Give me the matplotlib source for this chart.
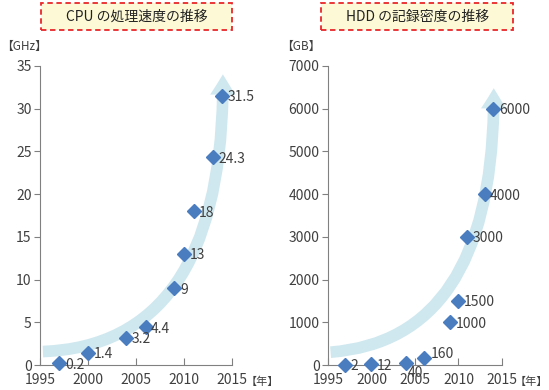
import numpy as np
import matplotlib
matplotlib.use("Agg")
import matplotlib.pyplot as plt
from matplotlib.patches import FancyArrowPatch, Rectangle
from matplotlib.path import Path

plt.rcParams["font.family"] = ["Noto Sans CJK JP", "DejaVu Sans"]

# CPU clock speed
cpu_years = [1997, 2000, 2004, 2006, 2009, 2010, 2011, 2013, 2014]
cpu_ghz = [0.2, 1.4, 3.2, 4.4, 9, 13, 18, 24.3, 31.5]
cpu_labels = ["0.2", "1.4", "3.2", "4.4", "9", "13", "18", "24.3", "31.5"]

# HDD recording density
hdd_years = [1997, 2000, 2004, 2006, 2009, 2010, 2011, 2013, 2014]
hdd_gb = [2, 12, 40, 160, 1000, 1500, 3000, 4000, 6000]
hdd_labels = ["2", "12", "40", "160", "1000", "1500", "3000", "4000", "6000"]

x_ticks = [1995, 2000, 2005, 2010, 2015]
cpu_yticks = [0, 5, 10, 15, 20, 25, 30, 35]
hdd_yticks = [0, 1000, 2000, 3000, 4000, 5000, 6000, 7000]

TEXT = "#404040"
SPINE = "#808080"
MARKER = "#4a7cc0"
ARROW = "#cfe8ef"


def draw_panel(fig, rect, years, values, labels, yticks, unit, unit_x, year_x,
               title, title_rect, offsets, bend=0.075):
    ax = fig.add_axes(rect)
    ax.set_xlim(x_ticks[0], x_ticks[-1])
    ax.set_ylim(yticks[0], yticks[-1])
    ax.set_xticks(x_ticks)
    ax.set_yticks(yticks)
    for s in ["top", "right"]:
        ax.spines[s].set_visible(False)
    for s in ["left", "bottom"]:
        ax.spines[s].set_color(SPINE)
    ax.tick_params(axis="x", direction="in", length=5, color=SPINE, labelcolor=TEXT,
                   labelsize=10, pad=6)
    ax.tick_params(axis="y", direction="out", length=4, color=SPINE, labelcolor=TEXT,
                   labelsize=10, pad=2)

    # trend arrow behind the points
    vmax = max(values)
    start = (x_ticks[0] + 0.3, vmax * 0.05)
    ctrl = (years[-1] + 0.3, vmax * bend)
    tip = (years[-1] + 0.05, vmax * 1.08)
    path = Path([start, ctrl, tip], [Path.MOVETO, Path.CURVE3, Path.CURVE3])
    arrow = FancyArrowPatch(path=path,
                            arrowstyle="simple,head_length=2.1,head_width=2.6,tail_width=1.2",
                            mutation_scale=7, fc=ARROW, ec="none", zorder=1,
                            clip_on=False)
    ax.add_patch(arrow)

    ax.plot(years, values, linestyle="none", marker="D", markersize=7,
            color=MARKER, zorder=3, clip_on=False)
    for i, (x, y, lab) in enumerate(zip(years, values, labels)):
        dx, dy = offsets.get(i, (4, -1))
        ax.annotate(lab, (x, y), xytext=(dx, dy), textcoords="offset points",
                    ha="left", va="center", fontsize=10, color=TEXT, zorder=4)

    # unit labels
    fig.text(unit_x, 0.88, unit, ha="left", va="center", fontsize=8.5, color=TEXT)
    fig.text(year_x, 0.022, "【年】", ha="left", va="center", fontsize=8, color=TEXT)

    # title box
    box = Rectangle((title_rect[0], title_rect[1]), title_rect[2], title_rect[3],
                    transform=fig.transFigure, fc="#fdf9d6", ec="#e8262a", lw=1.3,
                    linestyle=(0, (3, 2)))
    fig.patches.append(box)
    fig.text(title_rect[0] + title_rect[2] / 2, title_rect[1] + title_rect[3] / 2, title,
             ha="center", va="center", fontsize=10, color="#222222")
    return ax


fig = plt.figure(figsize=(5.49, 3.9), dpi=100)

draw_panel(fig, [0.0729, 0.0641, 0.3497, 0.7667], cpu_years, cpu_ghz, cpu_labels,
           cpu_yticks, "【GHz】", 0.002, 0.448, "CPU の処理速度の推移",
           [0.0747, 0.923, 0.348, 0.069], {})

draw_panel(fig, [0.5974, 0.0641, 0.317, 0.7667], hdd_years, hdd_gb, hdd_labels,
           hdd_yticks, "【GB】", 0.512, 0.938, "HDD の記録密度の推移",
           [0.5847, 0.923, 0.350, 0.069],
           {2: (1, -7), 3: (5, 3)}, bend=0.1)

fig.savefig("out.png", dpi=100)
